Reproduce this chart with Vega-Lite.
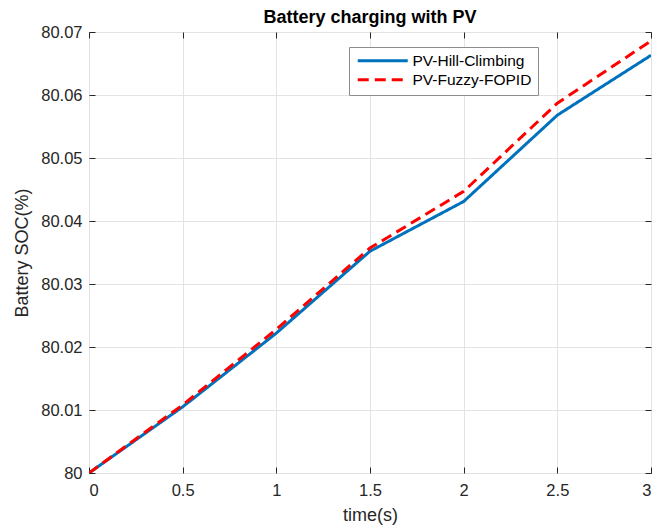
{
  "$schema": "https://vega.github.io/schema/vega-lite/v6.json",
  "width": 562,
  "height": 441,
  "autosize": "none",
  "padding": {"left": 89, "top": 32, "right": 11, "bottom": 54},
  "background": "white",
  "title": {"text": "Battery charging with PV", "font": "Liberation Sans", "fontSize": 18, "fontWeight": "bold", "color": "#000000", "offset": -3},
  "config": {"view": {"stroke": "#262626", "strokeWidth": 1}},
  "data": {"values": [
    {"t": 0, "soc": 80.0, "series": "PV-Hill-Climbing"},
    {"t": 0.5, "soc": 80.0105, "series": "PV-Hill-Climbing"},
    {"t": 1, "soc": 80.0222, "series": "PV-Hill-Climbing"},
    {"t": 1.5, "soc": 80.0352, "series": "PV-Hill-Climbing"},
    {"t": 2, "soc": 80.0431, "series": "PV-Hill-Climbing"},
    {"t": 2.5, "soc": 80.0568, "series": "PV-Hill-Climbing"},
    {"t": 3, "soc": 80.0663, "series": "PV-Hill-Climbing"},
    {"t": 0, "soc": 80.0, "series": "PV-Fuzzy-FOPID"},
    {"t": 0.5, "soc": 80.0108, "series": "PV-Fuzzy-FOPID"},
    {"t": 1, "soc": 80.0228, "series": "PV-Fuzzy-FOPID"},
    {"t": 1.5, "soc": 80.0357, "series": "PV-Fuzzy-FOPID"},
    {"t": 2, "soc": 80.0447, "series": "PV-Fuzzy-FOPID"},
    {"t": 2.5, "soc": 80.0587, "series": "PV-Fuzzy-FOPID"},
    {"t": 3, "soc": 80.0686, "series": "PV-Fuzzy-FOPID"}
  ]},
  "layer": [
    {
      "mark": {"type": "line", "strokeWidth": 3, "clip": true},
      "encoding": {
        "x": {"field": "t", "type": "quantitative", "scale": {"domain": [0, 3], "nice": false},
          "axis": {"orient": "bottom", "title": "time(s)", "values": [0, 0.5, 1, 1.5, 2, 2.5, 3], "format": "~g",
            "grid": true, "gridColor": "#e3e3e3", "gridWidth": 1, "domain": false,
            "tickSize": -6, "tickColor": "#262626", "labelPadding": 15,
            "labelFont": "Liberation Sans", "labelFontSize": 16.5, "labelColor": "#262626",
            "titleFont": "Liberation Sans", "titleFontSize": 18, "titleFontWeight": "normal", "titleColor": "#262626", "titlePadding": 8}},
        "y": {"field": "soc", "type": "quantitative", "scale": {"domain": [80, 80.07], "nice": false, "zero": false},
          "axis": {"orient": "left", "title": "Battery SOC(%)", "values": [80, 80.01, 80.02, 80.03, 80.04, 80.05, 80.06, 80.07],
            "labelExpr": "datum.value < 80.001 ? '80' : format(datum.value, '.2f')",
            "grid": true, "gridColor": "#e3e3e3", "gridWidth": 1, "domain": false,
            "tickSize": -6, "tickColor": "#262626", "labelPadding": 13,
            "labelFont": "Liberation Sans", "labelFontSize": 16.5, "labelColor": "#262626",
            "titleFont": "Liberation Sans", "titleFontSize": 18, "titleFontWeight": "normal", "titleColor": "#262626", "titlePadding": 9}},
        "color": {"field": "series", "type": "nominal",
          "scale": {"domain": ["PV-Hill-Climbing", "PV-Fuzzy-FOPID"], "range": ["#0072BD", "#FF0000"]},
          "legend": {"title": null, "orient": "none", "legendX": 260, "legendY": 15,
            "fillColor": "white", "strokeColor": "#8c8c8c", "padding": 6,
            "symbolType": "M-5,0H5", "symbolSize": 100, "symbolStrokeWidth": 3, "symbolOffset": 20,
            "labelFont": "Liberation Sans", "labelFontSize": 15.5, "labelColor": "#000000", "labelOffset": 22, "rowPadding": 2}},
        "strokeDash": {"field": "series", "type": "nominal",
          "scale": {"domain": ["PV-Hill-Climbing", "PV-Fuzzy-FOPID"], "range": [[1, 0], [11, 6]]},
          "legend": {"title": null, "orient": "none", "legendX": 260, "legendY": 15,
            "fillColor": "white", "strokeColor": "#8c8c8c", "padding": 6,
            "symbolType": "M-5,0H5", "symbolSize": 100, "symbolStrokeWidth": 3, "symbolOffset": 20,
            "labelFont": "Liberation Sans", "labelFontSize": 15.5, "labelColor": "#000000", "labelOffset": 22, "rowPadding": 2}}
      }
    },
    {
      "mark": {"type": "point", "opacity": 0},
      "encoding": {
        "x": {"field": "t", "type": "quantitative", "scale": {"domain": [0, 3], "nice": false},
          "axis": {"orient": "top", "title": null, "values": [0, 0.5, 1, 1.5, 2, 2.5, 3], "labels": false, "grid": false, "domain": false, "tickSize": -6, "tickColor": "#262626"}},
        "y": {"field": "soc", "type": "quantitative", "scale": {"domain": [80, 80.07], "nice": false, "zero": false},
          "axis": {"orient": "right", "title": null, "values": [80, 80.01, 80.02, 80.03, 80.04, 80.05, 80.06, 80.07], "labels": false, "grid": false, "domain": false, "tickSize": -6, "tickColor": "#262626"}}
      }
    }
  ],
  "resolve": {"axis": {"x": "independent", "y": "independent"}}
}
